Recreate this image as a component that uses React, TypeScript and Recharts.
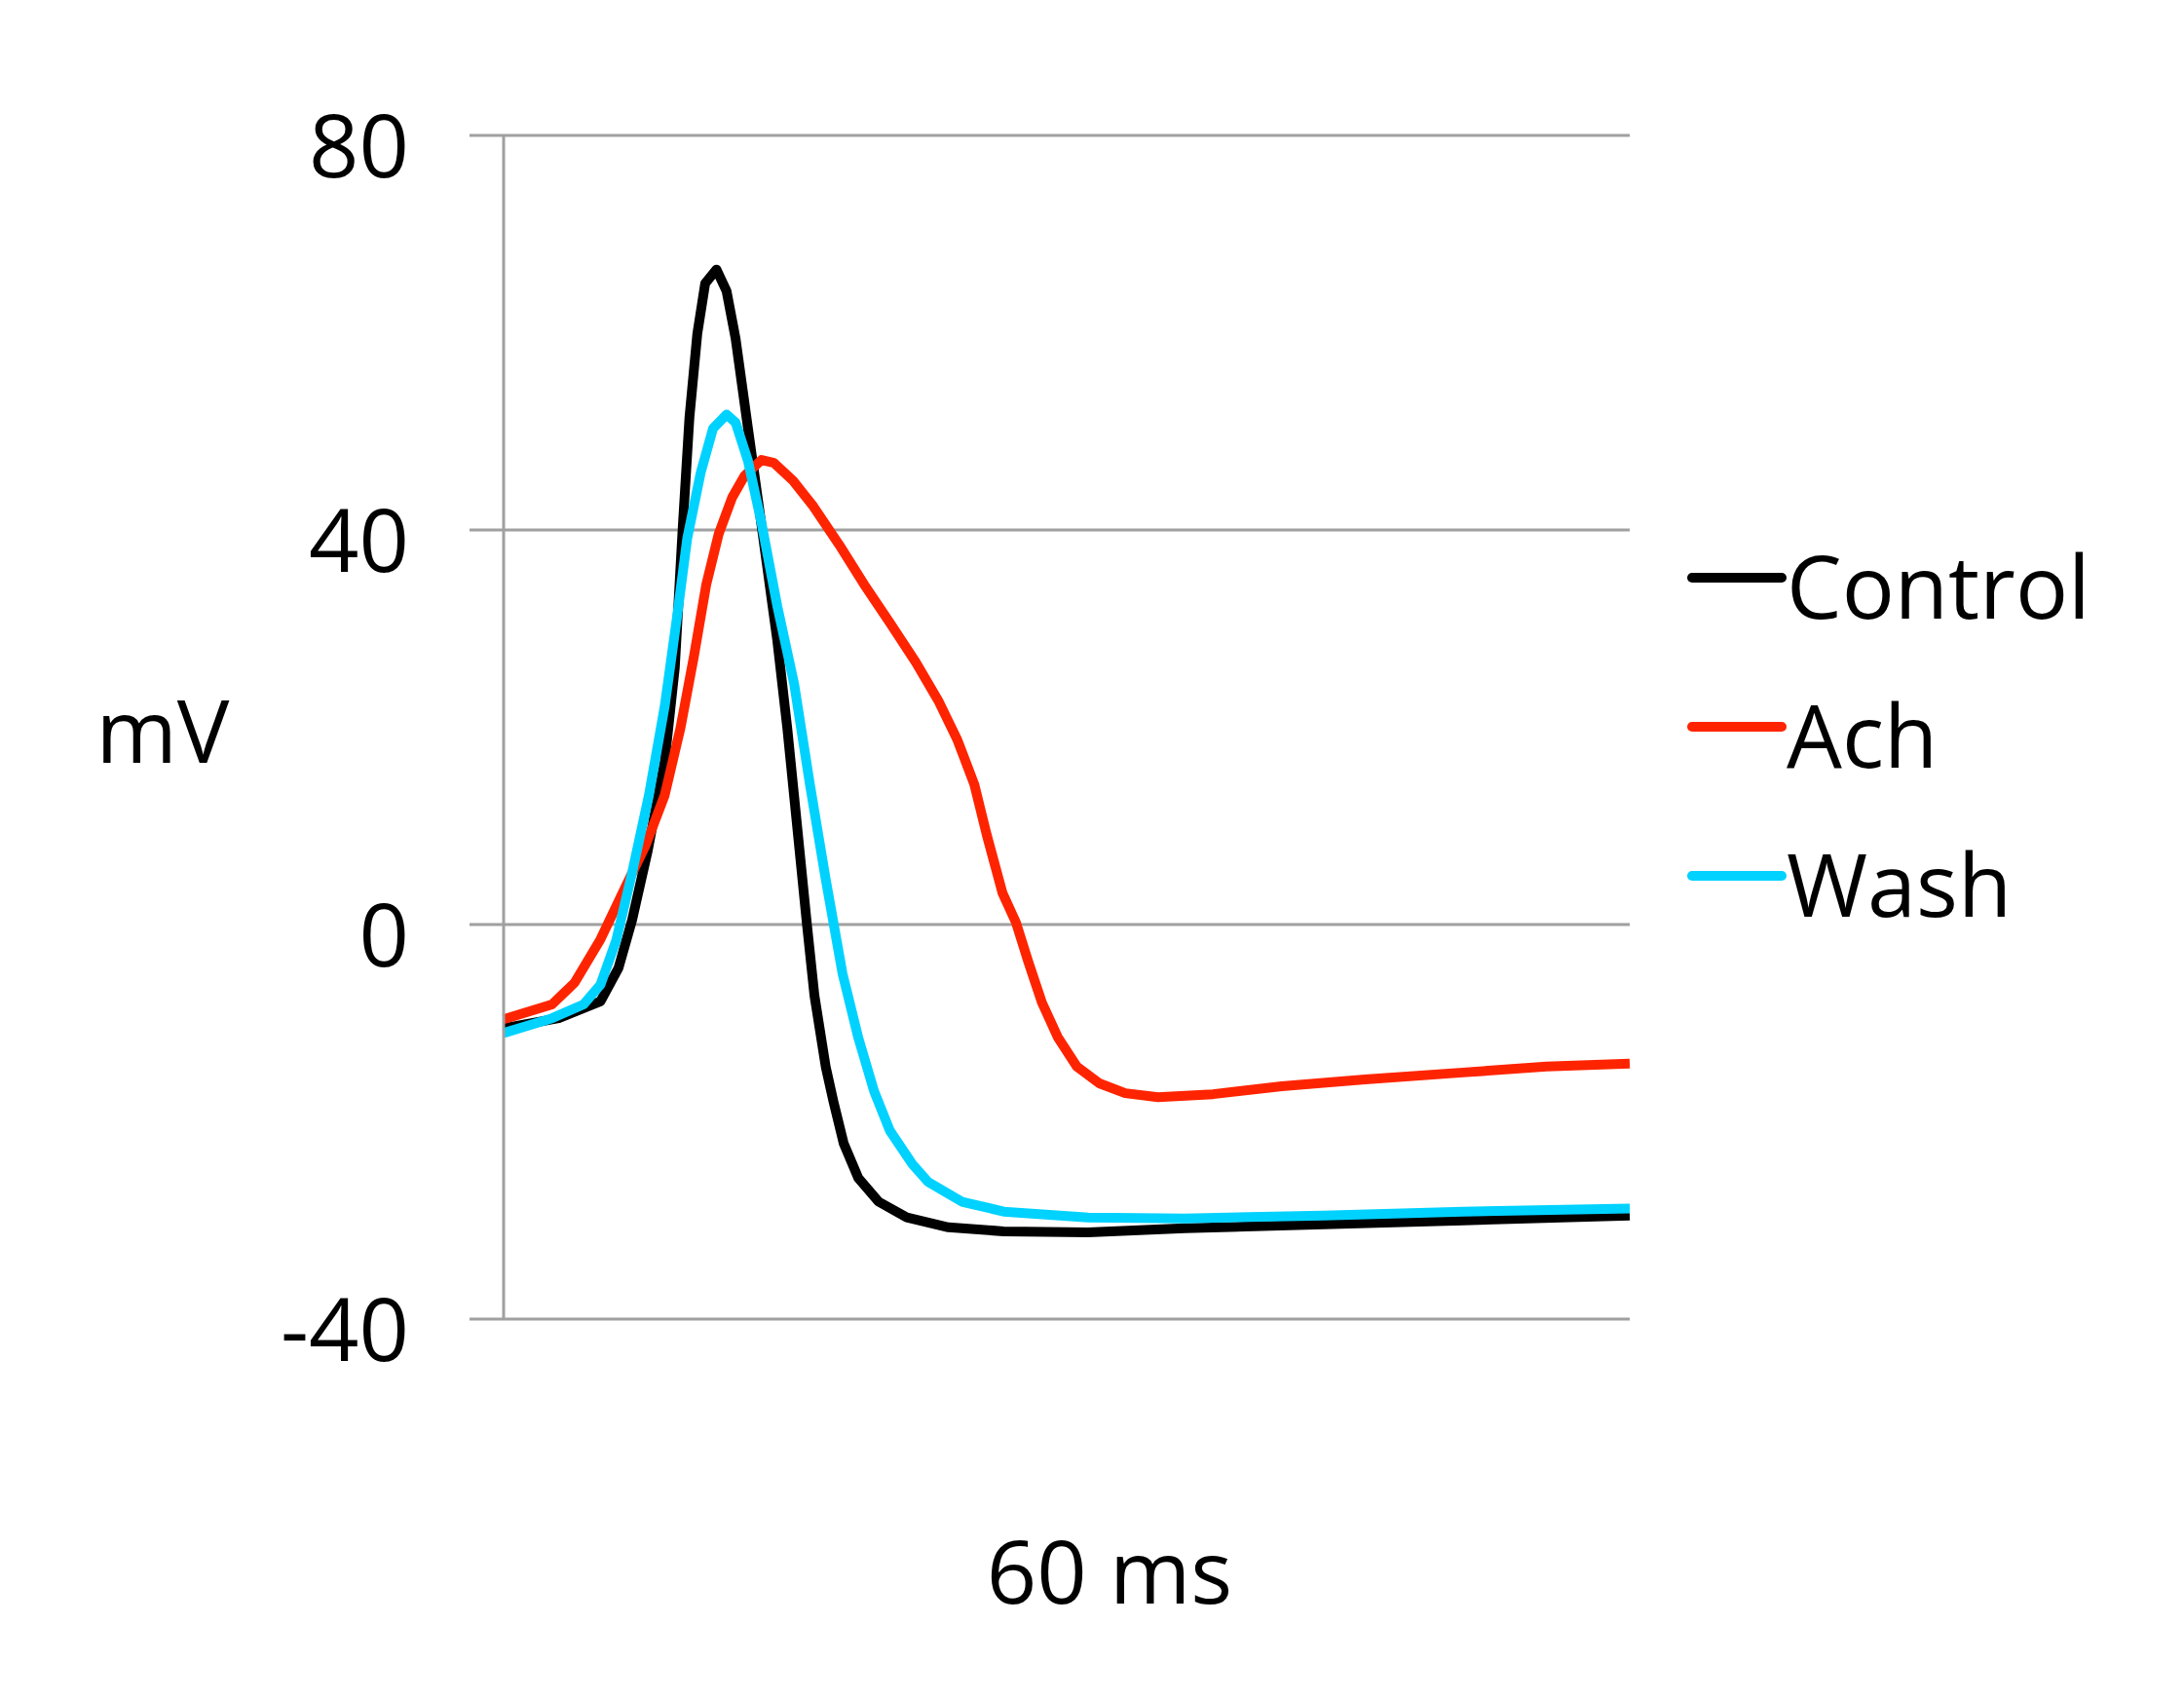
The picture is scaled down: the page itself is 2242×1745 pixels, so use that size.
import { LineChart, Line, XAxis, YAxis, CartesianGrid } from 'recharts';

// time axis is unitless (0..100 across the plot), values in mV
const controlT = [0, 4.9, 8.6, 10.2, 11.4, 12.8, 14.3, 15.2, 15.9, 16.5, 17.2, 17.9, 18.9, 19.8, 20.6, 21.7, 22.8, 24.3, 25.2, 26.0, 26.9, 27.6, 28.6, 29.3, 30.2, 31.5, 33.3, 35.8, 39.5, 44.4, 51.9, 60.5, 72.8, 85.2, 100];
const controlMv = [-10.5, -9.5, -7.8, -4.4, 0.4, 7.5, 16.5, 26.0, 40.2, 51.4, 59.9, 65.0, 66.4, 64.2, 59.4, 50.3, 41.3, 28.8, 19.8, 10.7, 0.4, -7.2, -14.4, -18.0, -22.2, -25.7, -28.1, -29.7, -30.7, -31.1, -31.2, -30.8, -30.4, -30.0, -29.5];

const achT = [0, 4.3, 6.3, 8.6, 10.9, 12.6, 14.3, 15.7, 16.9, 18.0, 19.1, 20.3, 21.4, 22.9, 24.0, 25.7, 27.5, 29.8, 32.0, 34.3, 36.6, 38.6, 40.3, 41.8, 42.9, 44.3, 45.5, 46.6, 47.8, 49.2, 50.9, 52.9, 55.2, 58.1, 63.0, 69.1, 76.5, 85.2, 92.6, 100];
const achMv = [-9.6, -8.1, -5.9, -1.5, 4.0, 8.0, 13.1, 19.9, 27.2, 34.5, 39.6, 43.3, 45.5, 47.1, 46.8, 45.0, 42.4, 38.5, 34.5, 30.6, 26.6, 22.7, 18.7, 14.2, 9.1, 3.2, 0.2, -3.8, -7.9, -11.4, -14.4, -16.1, -17.1, -17.5, -17.2, -16.4, -15.7, -15.0, -14.4, -14.1];

const washT = [0, 4.3, 7.1, 8.6, 10.0, 11.4, 12.9, 14.3, 15.4, 16.3, 17.5, 18.6, 19.8, 20.6, 21.7, 22.9, 24.3, 25.8, 27.2, 28.6, 30.1, 31.5, 32.9, 34.3, 36.3, 37.7, 40.7, 44.4, 51.9, 60.5, 72.8, 85.2, 100];
const washMv = [-11.0, -9.5, -8.1, -6.1, -1.6, 5.2, 13.1, 22.1, 31.2, 39.1, 45.8, 50.3, 51.7, 50.9, 47.0, 40.7, 32.3, 24.4, 14.2, 4.6, -5.0, -11.5, -16.9, -20.9, -24.3, -26.1, -28.1, -29.1, -29.7, -29.8, -29.5, -29.1, -28.8];

const yTicks = [-40, 0, 40, 80];
const seriesNames = ['Control', 'Ach', 'Wash'];
const seriesColors = ['#000000', '#ff2400', '#00d2ff'];

const toPoints = (t: number[], v: number[]) => t.map((x, i) => ({ t: x, v: v[i] }));
const series = [toPoints(controlT, controlMv), toPoints(achT, achMv), toPoints(washT, washMv)];

const FONT = '"Open Sans", sans-serif';
const GRID = '#a0a0a0';

const YTick = ({ x, y, payload }: any) => (
  <text x={x} y={y} dy={43} textAnchor="end" fontFamily={FONT} fontSize={90} fill="#000">
    {payload.value}
  </text>
);

export default function App() {
  return (
    <div style={{ position: 'absolute', left: 0, top: 0, width: 2242, height: 1745, background: '#fff' }}>
      <LineChart width={2242} height={1745} margin={{ top: 139, right: 569, bottom: 391, left: 0 }}>
        <CartesianGrid vertical={false} stroke={GRID} strokeWidth={3} />
        <XAxis dataKey="t" type="number" domain={[0, 100]} hide />
        <YAxis
          type="number"
          domain={[-40, 80]}
          ticks={yTicks}
          width={517}
          axisLine={{ stroke: GRID, strokeWidth: 3 }}
          tickLine={{ stroke: GRID, strokeWidth: 3 }}
          tickSize={35}
          tickMargin={62}
          tick={<YTick />}
          interval={0}
        />
        {series.map((pts, i) => (
          <Line
            key={seriesNames[i]}
            data={pts}
            dataKey="v"
            name={seriesNames[i]}
            type="linear"
            stroke={seriesColors[i]}
            strokeWidth={10}
            strokeLinejoin="round"
            dot={false}
            isAnimationActive={false}
          />
        ))}
      </LineChart>
      <svg width={2242} height={1745} style={{ position: 'absolute', left: 0, top: 0, pointerEvents: 'none' }}>
        <text x={167} y={783} textAnchor="middle" fontFamily={FONT} fontSize={90} fill="#000">mV</text>
        <text x={1139} y={1646} textAnchor="middle" fontFamily={FONT} fontSize={90} fill="#000">60 ms</text>
        {seriesNames.map((name, i) => (
          <g key={name}>
            <line x1={1737} x2={1829} y1={593 + i * 153} y2={593 + i * 153} stroke={seriesColors[i]} strokeWidth={10} strokeLinecap="round" />
            <text x={1834} y={635 + i * 153} fontFamily={FONT} fontSize={90} fill="#000">{name}</text>
          </g>
        ))}
      </svg>
    </div>
  );
}
